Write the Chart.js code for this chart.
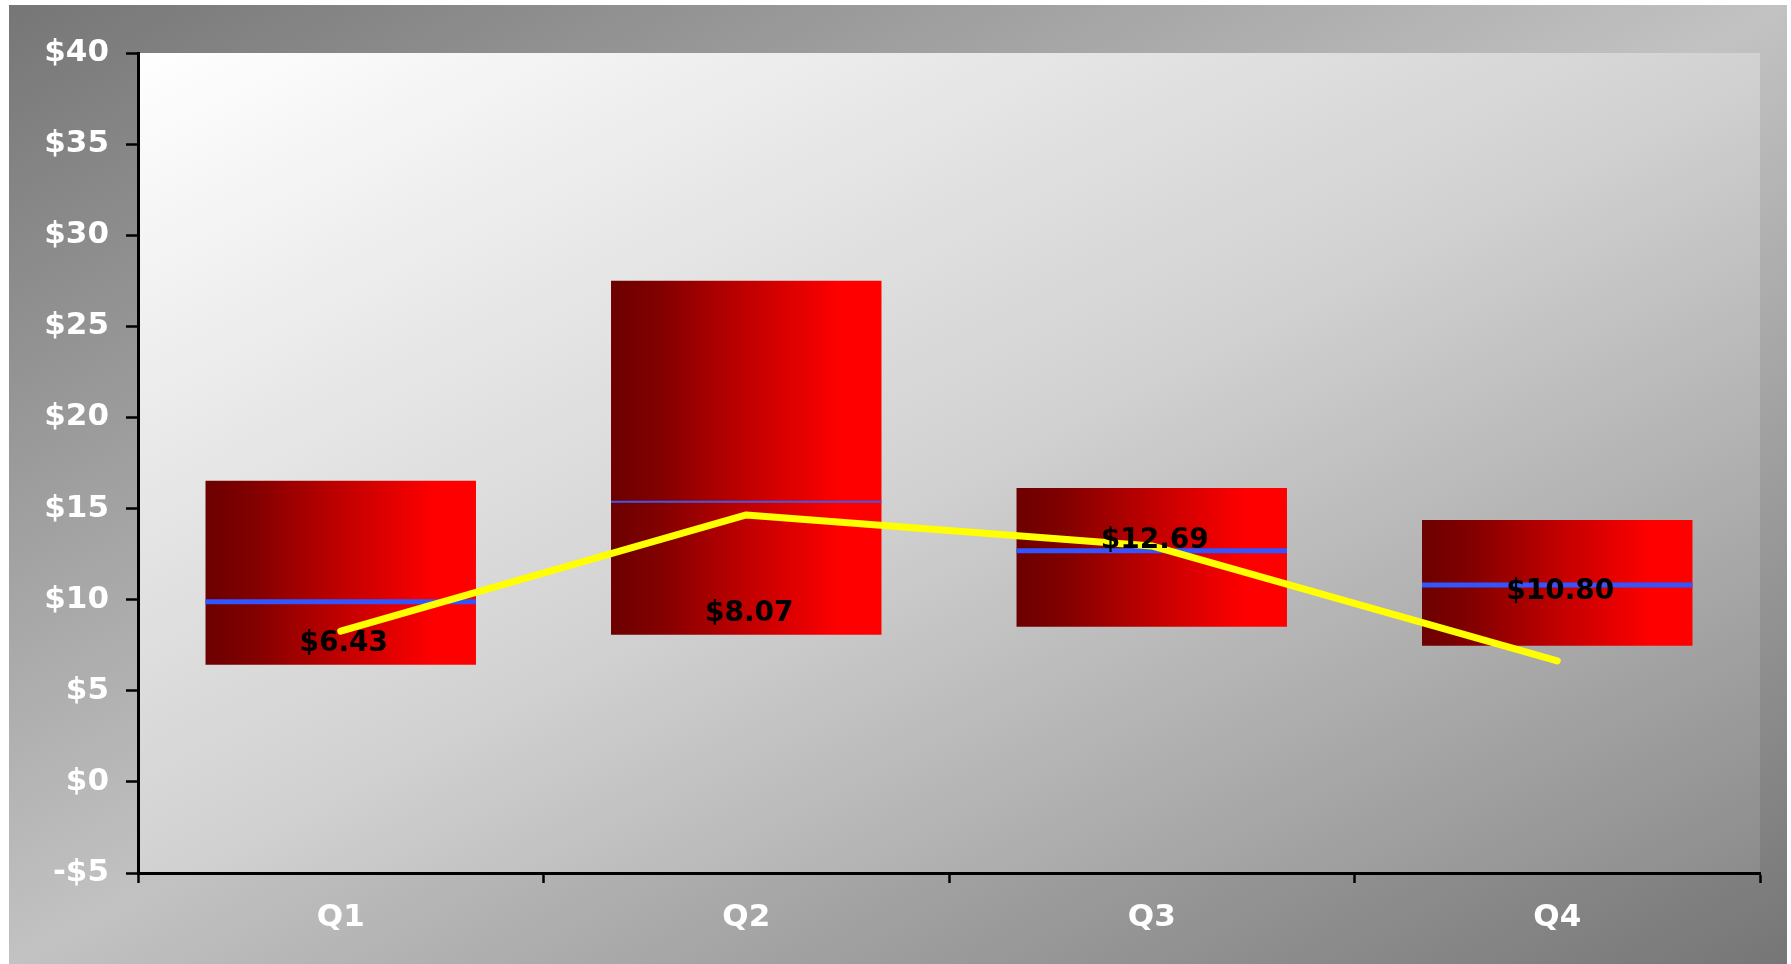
<!DOCTYPE html>
<html>
<head>
<meta charset="utf-8">
<script src="https://cdn.jsdelivr.net/npm/chart.js@4"></script>
<style>
  html, body { margin: 0; padding: 0; background: #ffffff; }
  canvas { display: block; }
</style>
</head>
<body>
<canvas id="myChart" width="1791" height="964"></canvas>
<script>
// quarterly ranges
const quarters = ['Q1', 'Q2', 'Q3', 'Q4'];
const lows = [6.43, 8.07, 8.51, 7.47];
const highs = [16.52, 27.5, 16.13, 14.37];
const mids = [9.88, 15.38, 12.69, 10.80];
const trend = [8.27, 14.65, 12.95, 6.64];
const labelValues = [6.43, 8.07, 12.69, 10.80];
const yTicks = { min: -5, max: 40, step: 5 };

const BAR_PCT = 0.667;
const FONT = '"DejaVu Sans", "Liberation Sans", sans-serif';

function money(v) {
    return (v < 0 ? '-$' : '$') + Math.abs(v);
}

function barGradient(c) {
    const chart = c.chart;
    if (!chart.chartArea || c.dataIndex === undefined) return '#ff0000';
    const xs = chart.scales.x;
    const cx = xs.getPixelForValue(c.dataIndex);
    const half = xs.width / quarters.length * BAR_PCT / 2;
    const g = chart.ctx.createLinearGradient(cx - half, 0, cx + half, 0);
    g.addColorStop(0, '#6c0000');
    g.addColorStop(0.18, '#820000');
    g.addColorStop(0.5, '#c00000');
    g.addColorStop(0.85, '#ff0000');
    g.addColorStop(1, '#ff0000');
    return g;
}

// diagonal gradient laid out in the box's own coordinates, like Excel fills
function boxFill(ctx, x, y, w, h, stops) {
    ctx.save();
    ctx.translate(x, y);
    ctx.scale(w, h);
    const g = ctx.createLinearGradient(0, 0, 1, 1);
    stops.forEach(s => g.addColorStop(s[0], s[1]));
    ctx.fillStyle = g;
    ctx.fillRect(0, 0, 1, 1);
    ctx.restore();
}

const backdrop = {
    id: 'backdrop',
    beforeDraw(chart) {
        const ctx = chart.ctx;
        const a = chart.chartArea;
        boxFill(ctx, 9, 5, 1778, 959, [[0, '#767676'], [0.5, '#c2c2c2'], [1, '#767676']]);
        boxFill(ctx, a.left, a.top, a.right - a.left, a.bottom - a.top,
            [[0, '#ffffff'], [0.5, '#d2d2d2'], [1, '#8c8c8c']]);
    }
};

const midLines = {
    id: 'midLines',
    afterDatasetDraw(chart, args) {
        if (args.index !== 0) return;
        const ctx = chart.ctx;
        const y = chart.scales.y;
        const widths = [5, 2, 5, 5];
        args.meta.data.forEach((bar, i) => {
            const py = y.getPixelForValue(mids[i]);
            ctx.save();
            ctx.strokeStyle = i === 1 ? '#4458e6' : '#3355ff';
            ctx.lineWidth = widths[i];
            ctx.beginPath();
            ctx.moveTo(bar.x - bar.width / 2, py);
            ctx.lineTo(bar.x + bar.width / 2, py);
            ctx.stroke();
            ctx.restore();
        });
    }
};

const valueLabels = {
    id: 'valueLabels',
    afterDatasetsDraw(chart) {
        const ctx = chart.ctx;
        const x = chart.scales.x;
        const y = chart.scales.y;
        const shift = [-21, -21, -10, 7];
        ctx.save();
        ctx.font = 'bold 28px ' + FONT;
        ctx.fillStyle = '#000000';
        ctx.textAlign = 'center';
        ctx.textBaseline = 'middle';
        labelValues.forEach((v, i) => {
            ctx.fillText('$' + v.toFixed(2), x.getPixelForValue(i) + 3, y.getPixelForValue(v) + shift[i]);
        });
        ctx.restore();
    }
};

const chart = new Chart(document.getElementById('myChart'), {
    type: 'bar',
    data: {
        labels: quarters,
        datasets: [
            {
                type: 'bar',
                data: quarters.map((q, i) => [lows[i], highs[i]]),
                backgroundColor: barGradient,
                borderWidth: 0,
                barPercentage: BAR_PCT,
                categoryPercentage: 1,
                order: 2
            },
            {
                type: 'line',
                data: trend,
                borderColor: '#ffff00',
                borderWidth: 7,
                borderCapStyle: 'round',
                borderJoinStyle: 'round',
                pointRadius: 0,
                tension: 0,
                order: 1
            }
        ]
    },
    options: {
        responsive: false,
        devicePixelRatio: 1,
        animation: false,
        layout: {
            padding: { top: 53, right: 31, bottom: 0, left: 0 }
        },
        plugins: {
            legend: { display: false },
            tooltip: { enabled: false }
        },
        scales: {
            x: {
                offset: true,
                grid: {
                    offset: true,
                    drawOnChartArea: false,
                    drawTicks: true,
                    tickLength: 10,
                    tickWidth: 2.5,
                    color: '#000000'
                },
                border: { color: '#000000', width: 3 },
                ticks: {
                    color: '#ffffff',
                    padding: 16,
                    font: { family: FONT, size: 31, weight: 'bold' }
                },
                afterFit(s) { s.height = 91; }
            },
            y: {
                min: yTicks.min,
                max: yTicks.max,
                grid: {
                    drawOnChartArea: false,
                    drawTicks: true,
                    tickLength: 12,
                    tickWidth: 2.5,
                    color: '#000000'
                },
                border: { color: '#000000', width: 3 },
                ticks: {
                    stepSize: yTicks.step,
                    color: '#ffffff',
                    padding: 17,
                    font: { family: FONT, size: 31, weight: 'bold' },
                    callback: v => money(v)
                },
                afterFit(s) { s.width = 138; }
            }
        }
    },
    plugins: [backdrop, midLines, valueLabels]
});
</script>
</body>
</html>
